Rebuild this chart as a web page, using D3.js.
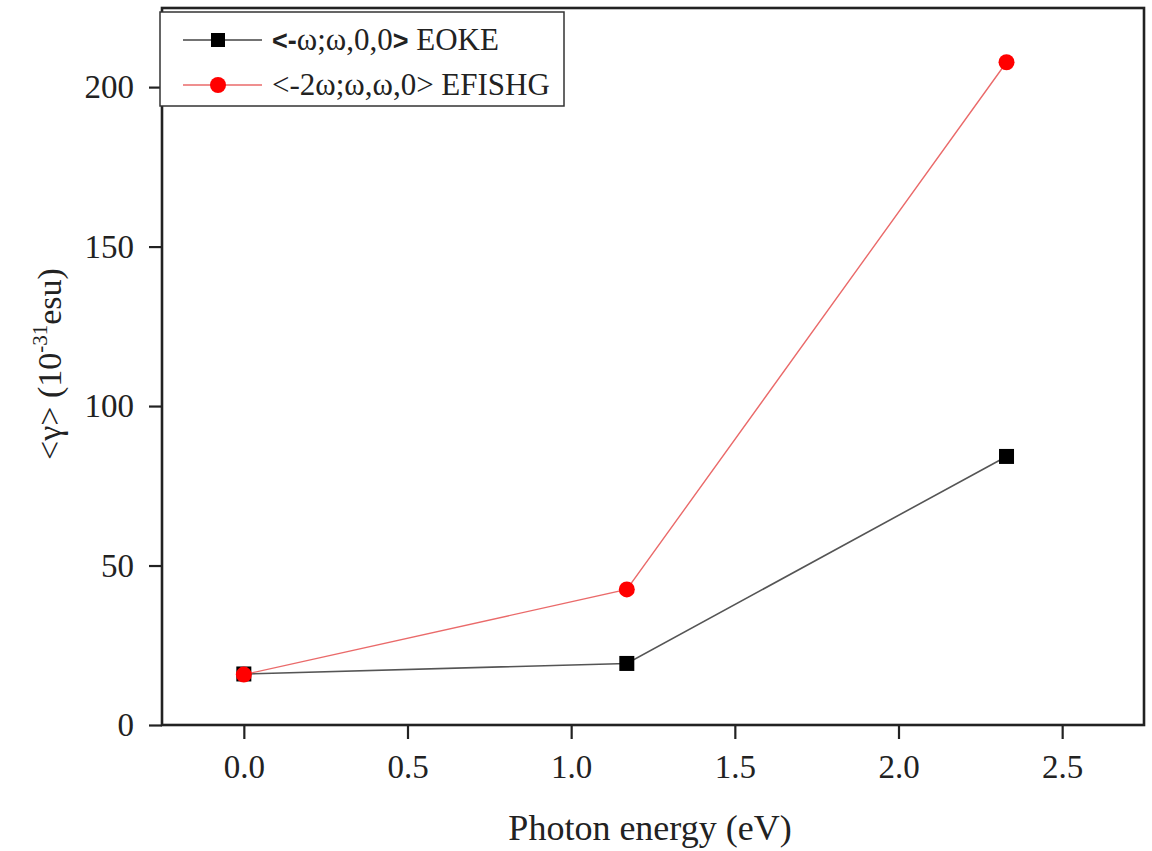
<!DOCTYPE html>
<html><head><meta charset="utf-8">
<script src="https://cdn.jsdelivr.net/npm/d3@7"></script>
<style>body{margin:0;background:#fff}svg{display:block}</style>
</head><body>
<svg id="c" width="1152" height="851"></svg>
<script>
const energies = [0, 1.17, 2.33];
const eokeValues = [16, 19.3, 84.2];
const efishgValues = [15.8, 42.5, 207.8];
const xTicks = [0, 0.5, 1.0, 1.5, 2.0, 2.5];
const yTicks = [0, 50, 100, 150, 200];
const seriesNames = ["<-ω;ω,0,0> EOKE", "<-2ω;ω,ω,0> EFISHG"];

const svg = d3.select("#c");
const L = 162, R = 1144, T = 8, B = 725;
const x = d3.scaleLinear().domain([-0.25, 2.75]).range([L, R]);
const y = d3.scaleLinear().domain([0, 224.8]).range([B, T]);
const serif = "'Liberation Serif','Times New Roman',serif";

const xa = svg.append("g").attr("transform", `translate(0,${B})`)
  .call(d3.axisBottom(x).tickValues(xTicks).tickFormat(d3.format(".1f")).tickSize(14).tickPadding(16));
const ya = svg.append("g").attr("transform", `translate(${L},0)`)
  .call(d3.axisLeft(y).tickValues(yTicks).tickFormat(d3.format("d")).tickSize(13).tickPadding(15));
[xa, ya].forEach(a => {
  a.select(".domain").remove();
  a.selectAll("line").attr("stroke", "#222").attr("stroke-width", 2.2);
  a.selectAll("text").attr("font-family", serif).attr("font-size", 33).attr("fill", "#222");
});

svg.append("rect").attr("x", L).attr("y", T).attr("width", R - L).attr("height", B - T)
  .attr("fill", "none").attr("stroke", "#222").attr("stroke-width", 2.6);

const line = d3.line().x(d => x(d[0])).y(d => y(d[1]));
const s1 = energies.map((e, i) => [e, eokeValues[i]]);
const s2 = energies.map((e, i) => [e, efishgValues[i]]);

svg.append("path").attr("d", line(s1)).attr("fill", "none").attr("stroke", "#555").attr("stroke-width", 1.6);
svg.append("g").selectAll("rect").data(s1).join("rect")
  .attr("x", d => x(d[0]) - 7.5).attr("y", d => y(d[1]) - 7.5).attr("width", 15).attr("height", 15).attr("fill", "#000");
svg.append("path").attr("d", line(s2)).attr("fill", "none").attr("stroke", "#ea6a6a").attr("stroke-width", 1.4);
svg.append("g").selectAll("circle").data(s2).join("circle")
  .attr("cx", d => x(d[0])).attr("cy", d => y(d[1])).attr("r", 8).attr("fill", "#ff0000");

// Legend
const lg = svg.append("g");
lg.append("rect").attr("x", 160).attr("y", 12).attr("width", 404).attr("height", 94)
  .attr("fill", "#fff").attr("stroke", "#333").attr("stroke-width", 1.5);
lg.append("line").attr("x1", 183).attr("x2", 262).attr("y1", 40).attr("y2", 40).attr("stroke", "#444").attr("stroke-width", 1.6);
lg.append("rect").attr("x", 211).attr("y", 33).attr("width", 14).attr("height", 14).attr("fill", "#000");
lg.append("line").attr("x1", 183).attr("x2", 262).attr("y1", 85).attr("y2", 85).attr("stroke", "#ea6a6a").attr("stroke-width", 1.4);
lg.append("circle").attr("cx", 218).attr("cy", 85).attr("r", 8).attr("fill", "#ff0000");
const t1 = lg.append("text").attr("x", 272).attr("y", 50).attr("font-family", serif).attr("font-size", 31).attr("fill", "#222");
const p1 = seriesNames[0].split(" ");
t1.append("tspan").attr("font-family", "'Liberation Sans',Arial,sans-serif").attr("font-weight", "bold").attr("font-size", 27).text("<-");
t1.append("tspan").text(p1[0].slice(2, -1));
t1.append("tspan").attr("font-family", "'Liberation Sans',Arial,sans-serif").attr("font-weight", "bold").attr("font-size", 27).text(">");
t1.append("tspan").text(" " + p1[1]);
lg.append("text").attr("x", 272).attr("y", 95).attr("font-family", serif).attr("font-size", 31).attr("fill", "#222").text(seriesNames[1]);

// Axis labels
svg.append("text").attr("x", 650).attr("y", 840).attr("text-anchor", "middle")
  .attr("font-family", serif).attr("font-size", 36).attr("fill", "#222").text("Photon energy (eV)");
const yl = svg.append("text").attr("transform", `translate(61,364) rotate(-90)`)
  .attr("text-anchor", "middle").attr("font-family", serif).attr("font-size", 34).attr("fill", "#222");
yl.append("tspan").text("<γ> (10");
yl.append("tspan").attr("font-size", 21).attr("dy", -14).text("-31");
yl.append("tspan").attr("dy", 14).text("esu)");
</script>
</body></html>
